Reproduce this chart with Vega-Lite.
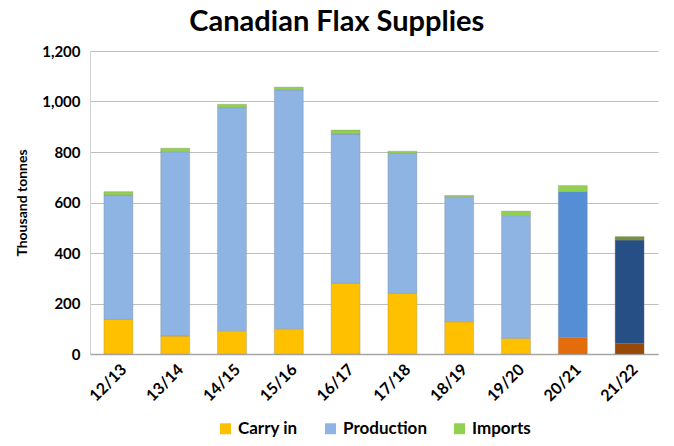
{
  "$schema": "https://vega.github.io/schema/vega-lite/v6.json",
  "width": 568,
  "height": 303,
  "padding": {"left": 15, "top": 8, "right": 14, "bottom": 0},
  "title": {
    "text": "Canadian Flax Supplies",
    "font": "Lato",
    "fontSize": 29,
    "fontWeight": "bold",
    "color": "#000000",
    "anchor": "middle",
    "frame": "bounds",
    "offset": 7
  },
  "config": {
    "view": {"stroke": null},
    "axis": {"labelFont": "Lato", "titleFont": "Lato", "labelColor": "#000000", "titleColor": "#000000"},
    "legend": {"labelFont": "Lato", "layout": {"bottom": {"anchor": "middle"}}}
  },
  "data": {
    "values": [
      {"season": "12/13", "part": "Carry in", "tier": 1, "kt": 137},
      {"season": "12/13", "part": "Production", "tier": 2, "kt": 493},
      {"season": "12/13", "part": "Imports", "tier": 3, "kt": 13},
      {"season": "13/14", "part": "Carry in", "tier": 1, "kt": 71},
      {"season": "13/14", "part": "Production", "tier": 2, "kt": 730},
      {"season": "13/14", "part": "Imports", "tier": 3, "kt": 14},
      {"season": "14/15", "part": "Carry in", "tier": 1, "kt": 92},
      {"season": "14/15", "part": "Production", "tier": 2, "kt": 884},
      {"season": "14/15", "part": "Imports", "tier": 3, "kt": 13},
      {"season": "15/16", "part": "Carry in", "tier": 1, "kt": 100},
      {"season": "15/16", "part": "Production", "tier": 2, "kt": 946},
      {"season": "15/16", "part": "Imports", "tier": 3, "kt": 11},
      {"season": "16/17", "part": "Carry in", "tier": 1, "kt": 280},
      {"season": "16/17", "part": "Production", "tier": 2, "kt": 591},
      {"season": "16/17", "part": "Imports", "tier": 3, "kt": 16},
      {"season": "17/18", "part": "Carry in", "tier": 1, "kt": 240},
      {"season": "17/18", "part": "Production", "tier": 2, "kt": 555},
      {"season": "17/18", "part": "Imports", "tier": 3, "kt": 8},
      {"season": "18/19", "part": "Carry in", "tier": 1, "kt": 128},
      {"season": "18/19", "part": "Production", "tier": 2, "kt": 495},
      {"season": "18/19", "part": "Imports", "tier": 3, "kt": 5},
      {"season": "19/20", "part": "Carry in", "tier": 1, "kt": 62},
      {"season": "19/20", "part": "Production", "tier": 2, "kt": 486},
      {"season": "19/20", "part": "Imports", "tier": 3, "kt": 18},
      {"season": "20/21", "part": "Carry in (estimate)", "tier": 1, "kt": 65},
      {"season": "20/21", "part": "Production (estimate)", "tier": 2, "kt": 578},
      {"season": "20/21", "part": "Imports (estimate)", "tier": 3, "kt": 24},
      {"season": "21/22", "part": "Carry in (forecast)", "tier": 1, "kt": 42},
      {"season": "21/22", "part": "Production (forecast)", "tier": 2, "kt": 409},
      {"season": "21/22", "part": "Imports (forecast)", "tier": 3, "kt": 14}
    ]
  },
  "mark": {"type": "bar", "stroke": "#7f7f7f", "strokeWidth": 0.5, "strokeOpacity": 0.6},
  "encoding": {
    "x": {
      "field": "season",
      "type": "nominal",
      "sort": null,
      "title": null,
      "scale": {"paddingInner": 0.49, "paddingOuter": 0.245},
      "axis": {
        "labelAngle": -45,
        "labelFontSize": 16,
        "labelFontWeight": "bold",
        "labelPadding": 7,
        "ticks": false,
        "domainColor": "#a6a6a6",
        "domainWidth": 1.5
      }
    },
    "y": {
      "field": "kt",
      "type": "quantitative",
      "aggregate": "sum",
      "stack": "zero",
      "title": "Thousand tonnes",
      "scale": {"domain": [0, 1200]},
      "axis": {
        "values": [0, 200, 400, 600, 800, 1000, 1200],
        "format": ",d",
        "labelFontSize": 15,
        "labelFontWeight": "bold",
        "labelPadding": 10,
        "titleFontSize": 14,
        "titleFontWeight": "bold",
        "titlePadding": 12,
        "ticks": false,
        "domainColor": "#d0d0d0",
        "gridColor": "#bfbfbf",
        "gridWidth": 1
      }
    },
    "order": {"field": "tier", "type": "quantitative", "sort": "ascending"},
    "color": {
      "field": "part",
      "type": "nominal",
      "scale": {
        "domain": ["Carry in", "Production", "Imports", "Carry in (estimate)", "Production (estimate)", "Imports (estimate)", "Carry in (forecast)", "Production (forecast)", "Imports (forecast)"],
        "range": ["#FFC000", "#8DB4E2", "#92D050", "#E46C0A", "#558ED5", "#92D050", "#984807", "#254F85", "#77933C"]
      },
      "legend": {
        "title": null,
        "orient": "bottom",
        "direction": "horizontal",
        "values": ["Carry in", "Production", "Imports"],
        "symbolType": "square",
        "symbolSize": 120,
        "symbolStrokeWidth": 0,
        "labelFontSize": 17,
        "labelFontWeight": "bold",
        "labelColor": "#000000",
        "columnPadding": 24,
        "offset": 16
      }
    }
  }
}
